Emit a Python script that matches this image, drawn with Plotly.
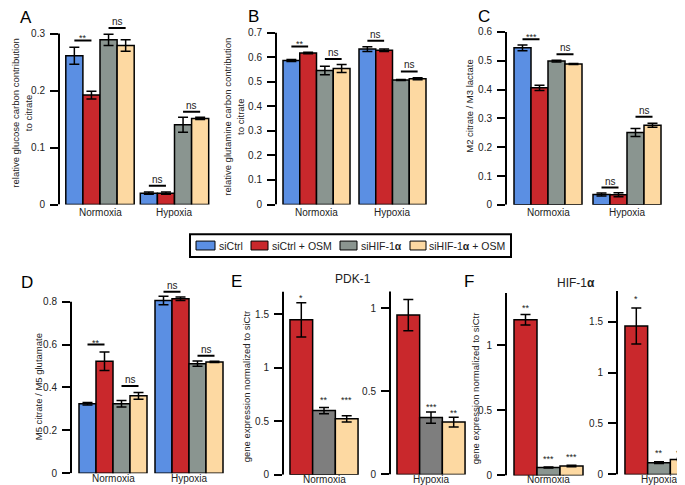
import plotly.graph_objects as go

FIG_W, FIG_H = 685, 485
FONT = "Liberation Sans, Arial, Helvetica, sans-serif"

# ---------------- data ----------------
conditions = ["Normoxia", "Hypoxia"]
series4 = ["siCtrl", "siCtrl + OSM", "siHIF-1α", "siHIF-1α + OSM"]
series3 = ["siCtrl + OSM", "siHIF-1α", "siHIF-1α + OSM"]

# panel A: relative glucose carbon contribution to citrate  [normoxia, hypoxia]
a_mean = [[0.261, 0.020], [0.192, 0.020], [0.289, 0.140], [0.279, 0.151]]
a_err = [[0.015, 0.002], [0.007, 0.002], [0.010, 0.013], [0.010, 0.002]]
a_sig = [("**", 0, 0, 1, 0.288), ("ns", 0, 2, 3, 0.310),
         ("ns", 1, 0, 1, 0.033), ("ns", 1, 2, 3, 0.163)]

# panel B: relative glutamine carbon contribution to citrate
b_mean = [[0.587, 0.633], [0.617, 0.628], [0.546, 0.507], [0.554, 0.512]]
b_err = [[0.004, 0.010], [0.003, 0.005], [0.017, 0.002], [0.016, 0.004]]
b_sig = [("**", 0, 0, 1, 0.644), ("ns", 0, 2, 3, 0.593),
         ("ns", 1, 0, 1, 0.667), ("ns", 1, 2, 3, 0.542)]

# panel C: M2 citrate / M3 lactate
c_mean = [[0.545, 0.036], [0.406, 0.035], [0.499, 0.251], [0.489, 0.276]]
c_err = [[0.010, 0.005], [0.009, 0.007], [0.003, 0.014], [0.002, 0.007]]
c_sig = [("***", 0, 0, 1, 0.575), ("ns", 0, 2, 3, 0.523),
         ("ns", 1, 0, 1, 0.060), ("ns", 1, 2, 3, 0.306)]

# panel D: M5 citrate / M5 glutamate
d_mean = [[0.324, 0.806], [0.522, 0.814], [0.324, 0.511], [0.361, 0.519]]
d_err = [[0.006, 0.020], [0.043, 0.008], [0.015, 0.012], [0.016, 0.003]]
d_sig = [("**", 0, 0, 1, 0.600), ("ns", 0, 2, 3, 0.407),
         ("ns", 1, 0, 1, 0.847), ("ns", 1, 2, 3, 0.548)]

# panel E: PDK-1 gene expression normalized to siCtrl
e_norm_mean = [1.448, 0.600, 0.523]
e_norm_err = [0.160, 0.030, 0.030]
e_norm_stars = ["*", "**", "***"]
e_norm_star_y = [1.667, 0.717, 0.717]
e_hyp_mean = [0.958, 0.342, 0.315]
e_hyp_err = [0.094, 0.034, 0.029]
e_hyp_stars = ["", "***", "**"]
e_hyp_star_y = [0.0, 0.417, 0.382]

# panel F: HIF-1α gene expression normalized to siCtrl
f_norm_mean = [1.194, 0.061, 0.073]
f_norm_err = [0.040, 0.003, 0.006]
f_norm_stars = ["**", "***", "***"]
f_norm_star_y = [1.298, 0.139, 0.154]
f_hyp_mean = [1.456, 0.116, 0.148]
f_hyp_err = [0.177, 0.008, 0.010]
f_hyp_stars = ["*", "**", "***"]
f_hyp_star_y = [1.737, 0.226, 0.226]

# ---------------- styles ----------------
BLUE, RED, GRAY, GRAY_E, PEACH = "#5b8fe3", "#c9282c", "#8a9590", "#7e7e7e", "#fdd9a2"
colors4 = [BLUE, RED, GRAY, PEACH]
colors_e = [RED, GRAY_E, PEACH]
colors_f = [RED, GRAY, PEACH]

fig = go.Figure()
shapes = []
annotations = []
layout_axes = {}


def px_x(px):
    return px / FIG_W


def px_y(py):
    return 1 - py / FIG_H


def add_panel(idx, geom, cats, means, errs, colors, names, sigs=(), stars=None, star_y=None):
    xname = "x" if idx == 1 else f"x{idx}"
    yname = "y" if idx == 1 else f"y{idx}"
    xk = "xaxis" if idx == 1 else f"xaxis{idx}"
    yk = "yaxis" if idx == 1 else f"yaxis{idx}"
    g = geom
    n = len(names)
    bw = g["bar"] / g["sp"]
    offs = [-n * bw / 2 + i * bw for i in range(n)]
    for i in range(n):
        fig.add_trace(go.Bar(
            x=cats, y=means[i], name=names[i], showlegend=False,
            width=[bw] * len(cats), offset=[offs[i]] * len(cats),
            marker=dict(color=colors[i], line=dict(color="black", width=1.5)),
            error_y=dict(type="data", array=errs[i], visible=True,
                         color="black", thickness=1.5, width=5),
            xaxis=xname, yaxis=yname, cliponaxis=False,
        ))
    xr = [(g["axis_x"] - g["c0"]) / g["sp"], (g["right"] - g["c0"]) / g["sp"]]
    layout_axes[xk] = dict(
        domain=[px_x(g["axis_x"]), px_x(g["right"])], range=xr, type="category",
        showgrid=False, zeroline=False, showline=False, ticks="", showticklabels=False,
        anchor=yname, fixedrange=True,
    )
    ytop_px = g["y0"] - g["ymax"] * g["ppu"]
    layout_axes[yk] = dict(
        domain=[px_y(g["y0"]), px_y(ytop_px)], range=[0, g["ymax"]],
        tickvals=g["ticks"], ticktext=[("%g" % t) for t in g["ticks"]],
        ticks="outside", ticklen=8, tickwidth=2, tickcolor="black",
        showline=False, showgrid=False, zeroline=False,
        tickfont=dict(size=10, color="#222", family=FONT), ticklabelstandoff=3,
        anchor=xname, fixedrange=True,
    )
    shapes.append(dict(type="line", xref=f"{xname} domain", yref=yname,
                       x0=0, x1=0, y0=0, y1=g["axis_top"],
                       line=dict(color="black", width=2)))
    # category labels under the groups
    for ci, cat in enumerate(cats):
        annotations.append(dict(x=ci, y=px_y(g["label_y"]), xref=xname, yref="paper",
                                text=cat, showarrow=False, yanchor="middle",
                                font=dict(size=10, color="#222", family=FONT)))
    for (lab, ci, si, sj, yv) in sigs:
        xa = ci + offs[si] + bw / 2
        xb = ci + offs[sj] + bw / 2
        shapes.append(dict(type="line", xref=xname, yref=yname, x0=xa, x1=xb,
                           y0=yv, y1=yv, line=dict(color="black", width=2)))
        annotations.append(dict(x=(xa + xb) / 2, y=yv, xref=xname, yref=yname,
                                text=lab, showarrow=False, yanchor="bottom",
                                yshift=(-5 if "*" in lab else -1),
                                font=dict(size=10 if lab == "ns" else 9, color="#222", family=FONT)))
    if stars:
        for i, (lab, yv) in enumerate(zip(stars, star_y)):
            if not lab:
                continue
            annotations.append(dict(x=offs[i] + bw / 2, y=yv, xref=xname, yref=yname,
                                    text=lab, showarrow=False, yanchor="middle", yshift=-2,
                                    font=dict(size=9, color="#222", family=FONT)))


geoms = {
    "A": dict(axis_x=51, c0=92, sp=74.5, right=205, bar=17.1, y0=199, ppu=577,
              ymax=0.335, axis_top=0.3, ticks=[0, 0.1, 0.2, 0.3], label_y=207.5),
    "B": dict(axis_x=268, c0=308.5, sp=76, right=422, bar=16.75, y0=199, ppu=248.6,
              ymax=0.76, axis_top=0.7, ticks=[0, 0.1, 0.2, 0.3, 0.4, 0.5, 0.6, 0.7], label_y=207.5),
    "C": dict(axis_x=498, c0=540, sp=79, right=658, bar=17, y0=199.3, ppu=291.7,
              ymax=0.655, axis_top=0.6, ticks=[0, 0.1, 0.2, 0.3, 0.4, 0.5, 0.6], label_y=207.5),
    "D": dict(axis_x=63, c0=105, sp=76, right=219, bar=17, y0=471, ppu=217,
              ymax=0.9, axis_top=0.8, ticks=[0, 0.2, 0.4, 0.6, 0.8], label_y=476.5),
    "E1": dict(axis_x=275, c0=316, sp=76, right=353, bar=22.7, y0=472.7, ppu=108.4,
               ymax=1.75, axis_top=1.71, ticks=[0, 0.5, 1, 1.5], label_y=477),
    "E2": dict(axis_x=382, c0=423, sp=76, right=460, bar=22.7, y0=472.3, ppu=168.4,
               ymax=1.12, axis_top=1.10, ticks=[0, 0.5, 1], label_y=477),
    "F1": dict(axis_x=498, c0=540.5, sp=76, right=578, bar=23, y0=473.3, ppu=132,
               ymax=1.42, axis_top=1.40, ticks=[0, 0.5, 1], label_y=477),
    "F2": dict(axis_x=609, c0=651, sp=76, right=685, bar=22.7, y0=472.3, ppu=103.2,
               ymax=1.82, axis_top=1.80, ticks=[0, 0.5, 1, 1.5], label_y=477),
}

add_panel(1, geoms["A"], conditions, a_mean, a_err, colors4, series4, a_sig)
add_panel(2, geoms["B"], conditions, b_mean, b_err, colors4, series4, b_sig)
add_panel(3, geoms["C"], conditions, c_mean, c_err, colors4, series4, c_sig)
add_panel(4, geoms["D"], conditions, d_mean, d_err, colors4, series4, d_sig)


def singles(vals):
    return [[v] for v in vals]


add_panel(5, geoms["E1"], [conditions[0]], singles(e_norm_mean), singles(e_norm_err),
          colors_e, series3, stars=e_norm_stars, star_y=e_norm_star_y)
add_panel(6, geoms["E2"], [conditions[1]], singles(e_hyp_mean), singles(e_hyp_err),
          colors_e, series3, stars=e_hyp_stars, star_y=e_hyp_star_y)
add_panel(7, geoms["F1"], [conditions[0]], singles(f_norm_mean), singles(f_norm_err),
          colors_f, series3, stars=f_norm_stars, star_y=f_norm_star_y)
add_panel(8, geoms["F2"], [conditions[1]], singles(f_hyp_mean), singles(f_hyp_err),
          colors_f, series3, stars=f_hyp_stars, star_y=f_hyp_star_y)


def paper_text(text, xpx, ypx, size, angle=0, xanchor="center", color="black"):
    annotations.append(dict(x=px_x(xpx), y=px_y(ypx), xref="paper", yref="paper",
                            text=text, showarrow=False, textangle=angle,
                            xanchor=xanchor, yanchor="middle",
                            font=dict(size=size, color=color, family=FONT)))


# panel letters
for lab, xx, yy in [("A", 18, 10), ("B", 245, 9), ("C", 476, 9),
                    ("D", 19, 278), ("E", 228, 277), ("F", 461, 277)]:
    paper_text(lab, xx, yy, 17)

# panel titles
paper_text("PDK-1", 345, 274, 12, color="#222")
paper_text("HIF-1<b>α</b>", 568, 278, 12, color="#222")

# y-axis titles
paper_text("relative glucose carbon contribution<br>to citrate", 14, 107, 9.5, angle=-90, color="#222")
paper_text("relative glutamine carbon contribution<br>to citrate", 226, 110, 9.5, angle=-90, color="#222")
paper_text("M2 citrate / M3 lactate", 462, 100, 9.5, angle=-90, color="#222")
paper_text("M5 citrate / M5 glutamate", 30, 384, 9.5, angle=-90, color="#222")
paper_text("gene expression normalized to siCtr", 238, 383, 9.5, angle=-90, color="#222")
paper_text("gene expression normalized to siCtr", 467, 385, 9.5, angle=-90, color="#222")

# legend (drawn manually)
shapes.append(dict(type="rect", xref="paper", yref="paper",
                   x0=px_x(182), x1=px_x(503), y0=px_y(252), y1=px_y(229),
                   line=dict(color="black", width=2), fillcolor="white"))
legend_pos = [(188, 207), (243, 260), (332, 349), (402, 418)]
legend_labels = ["siCtrl", "siCtrl + OSM", "siHIF-1<b>α</b>", "siHIF-1<b>α</b> + OSM"]
for (sx0, sx1), col, lab in zip(legend_pos, colors4, legend_labels):
    shapes.append(dict(type="rect", xref="paper", yref="paper",
                       x0=px_x(sx0), x1=px_x(sx1), y0=px_y(245), y1=px_y(236),
                       line=dict(color="black", width=1), fillcolor=col))
    paper_text(lab, sx1 + 1.5, 240.5, 10.5, xanchor="left", color="#222")

fig.update_layout(
    width=FIG_W, height=FIG_H,
    margin=dict(l=0, r=0, t=0, b=0),
    paper_bgcolor="white", plot_bgcolor="white",
    barmode="overlay", showlegend=False,
    font=dict(family=FONT, color="#222"),
    shapes=shapes, annotations=annotations,
    **layout_axes,
)

fig.write_html("out.html")
